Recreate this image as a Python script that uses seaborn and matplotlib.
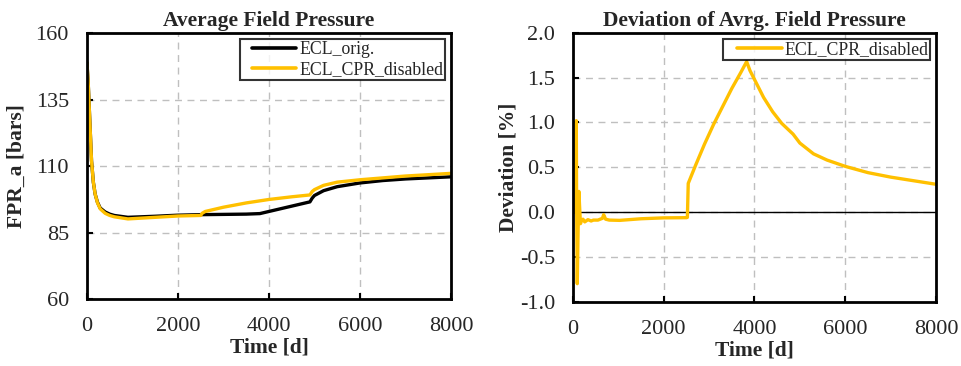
import numpy as np
import pandas as pd
import matplotlib
matplotlib.use("Agg")
import matplotlib.pyplot as plt
from matplotlib.legend_handler import HandlerLine2D
import seaborn as sns

# Average field pressure, original run
t_orig = [0, 30, 60, 100, 140, 180, 230, 290, 400, 500, 600, 900, 1500, 2000, 2500, 3000, 3500, 3800,
          4000, 4500, 4900, 4950, 5000, 5200, 5500, 6000, 6500, 7000, 7500, 8000]
p_orig = [148.8, 140.0, 128.0, 112.0, 104.0, 99.5, 96.5, 94.3, 92.8, 92.0, 91.5, 90.8, 91.2, 91.6, 91.8,
          91.9, 92.0, 92.2, 93.0, 95.0, 96.6, 98.0, 99.0, 100.8, 102.3, 103.7, 104.6, 105.2, 105.6, 106.0]

# Average field pressure, CPR disabled
t_cpr = [0, 30, 60, 100, 140, 180, 230, 290, 400, 500, 600, 900, 1500, 2000, 2500, 2530, 2600, 3000, 3500,
         4000, 4500, 4900, 4950, 5000, 5200, 5500, 6000, 6500, 7000, 7500, 8000]
p_cpr = [148.8, 140.0, 128.0, 112.0, 104.0, 99.5, 96.3, 94.0, 92.3, 91.5, 91.0, 90.2, 90.8, 91.3, 91.5,
         92.3, 93.0, 94.6, 96.2, 97.5, 98.5, 99.2, 100.5, 101.2, 102.8, 104.0, 104.9, 105.6, 106.3, 106.8, 107.3]

# Deviation [%]
t_dev = [0, 60, 73, 80, 95, 110, 130, 147, 165, 184, 220, 260, 330, 400, 450, 550, 650, 676, 720, 800,
         1030, 1500, 2000, 2500, 2521, 2540, 2700, 2900, 3100, 3300, 3500, 3700, 3827, 3900, 4000, 4200,
         4400, 4600, 4850, 5000, 5300, 5600, 6000, 6500, 7000, 7500, 8000]
dev = [0.0, 0.0, 1.02, 0.1, -0.80, -0.3, 0.23, 0.05, -0.13, -0.10, -0.08, -0.11, -0.085, -0.10, -0.09, -0.09,
       -0.07, -0.03, -0.08, -0.09, -0.093, -0.075, -0.065, -0.063, -0.06, 0.32, 0.52, 0.76, 0.98, 1.18,
       1.38, 1.56, 1.68, 1.58, 1.48, 1.28, 1.12, 0.99, 0.87, 0.77, 0.65, 0.58, 0.51, 0.44, 0.39, 0.35, 0.31]

gold = "#FFC000"

sns.set_style("white")
plt.rcParams['font.family'] = ['Liberation Serif', 'DejaVu Serif']
plt.rcParams['axes.unicode_minus'] = False

fig = plt.figure(figsize=(9.62, 3.66), dpi=100)
ax1 = fig.add_axes([0.0904, 0.182, 0.3784, 0.728])
ax2 = fig.add_axes([0.5956, 0.176, 0.3774, 0.734])

sns.lineplot(x=t_orig, y=p_orig, ax=ax1, color="black", lw=2.4, label="ECL_orig.", estimator=None)
sns.lineplot(x=t_cpr, y=p_cpr, ax=ax1, color=gold, lw=2.4, label="ECL_CPR_disabled", estimator=None)

ax2.axhline(0, color="black", lw=1.0, zorder=1)
sns.lineplot(x=t_dev, y=dev, ax=ax2, color=gold, lw=2.4, label="ECL_CPR_disabled", estimator=None)

ax1.set_xlim(0, 8000)
ax1.set_ylim(60, 160)
ax1.set_yticks([60, 85, 110, 135, 160])
ax2.set_xlim(0, 8000)
ax2.set_ylim(-1.0, 2.0)
ax2.set_yticks(np.arange(-1.0, 2.01, 0.5))
ax2.set_yticklabels([f"{v:.1f}" for v in np.arange(-1.0, 2.01, 0.5)])

for ax in (ax1, ax2):
    ax.set_xticks([0, 2000, 4000, 6000, 8000])
    ax.grid(True, color="#bfbfbf", ls=(0, (5, 4)), lw=1.0)
    ax.tick_params(direction="in", length=4, width=1.5, labelsize=16, color="black",
                   bottom=True, left=True, pad=13)
    for s in ax.spines.values():
        s.set_color("black")
        s.set_linewidth(2)
    ax.set_xlabel("Time [d]", fontsize=15.5, fontweight="bold", labelpad=1)

ax1.set_ylabel("FPR_a [bars]", fontsize=15.5, fontweight="bold", labelpad=6)
ax2.set_ylabel("Deviation [%]", fontsize=15.5, fontweight="bold", labelpad=1)
ax1.set_title("Average Field Pressure", fontsize=15.5, fontweight="bold", pad=5)
ax2.set_title("Deviation of Avrg. Field Pressure", fontsize=15.5, fontweight="bold", pad=5)

for ax, xpad, hl in ((ax1, 0.52, 3.05), (ax2, 0.69, 3.2)):
    h, l = ax.get_legend_handles_labels()
    leg = ax.legend(h, l, loc="upper right", fontsize=12.8, frameon=True, fancybox=False,
                    handlelength=hl, handletextpad=0.15, borderpad=0.1, labelspacing=0.2,
                    borderaxespad=0.34, handler_map={type(h[0]): HandlerLine2D(xpad=xpad)})
    leg.get_frame().set_edgecolor("black")
    leg.get_frame().set_linewidth(1.5)
    for ln in leg.get_lines():
        ln.set_linewidth(2.6)

fig.savefig("out.png", dpi=100)
